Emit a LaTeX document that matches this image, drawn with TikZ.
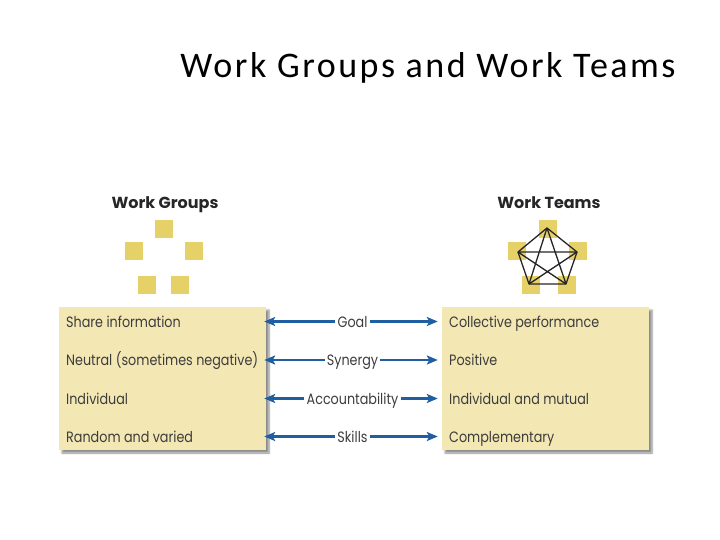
\documentclass[tikz,border=0pt]{standalone}
\usepackage{fontspec}
\setmainfont{Carlito}
\newfontfamily\titlefont[LetterSpace=7]{Carlito}
\newfontfamily\geo{Poppins}
\newfontfamily\geon[FakeStretch=0.85]{Poppins}
\usetikzlibrary{arrows.meta,shadows.blur}
\definecolor{boxfill}{RGB}{243,231,180}
\definecolor{sqfill}{RGB}{230,208,104}
\definecolor{arrblue}{RGB}{31,94,160}
\definecolor{txtgray}{RGB}{60,60,60}
\tikzset{
  panel/.style={draw=none, fill=boxfill, minimum width=207pt, minimum height=143pt,
    blur shadow={shadow xshift=3pt, shadow yshift=-3pt, shadow blur steps=6, shadow opacity=45}},
  rowtxt/.style={anchor=base west, inner sep=0pt, text=txtgray, font=\geon\fontsize{15}{17}\selectfont},
  midtxt/.style={inner sep=2pt, text height=11pt, text depth=0pt, text=txtgray, font=\geon\fontsize{15}{17}\selectfont},
  hdr/.style={anchor=base, inner sep=0pt, text=black!85, font=\geo\bfseries\fontsize{16}{18}\selectfont},
  sq/.style={draw=none, fill=sqfill, minimum size=18.5pt, inner sep=0pt},
  dbl/.style={draw=arrblue, line width=2.2pt, -{Stealth[length=11pt,width=9pt,inset=2.5pt]}},
  pent/.style={draw=black!85, line width=1.3pt}
}
\begin{document}
\begin{tikzpicture}[x=1pt,y=-1pt]
\useasboundingbox (0,0) rectangle (720,540);
% title
\node[anchor=base, inner sep=0pt, font=\titlefont\fontsize{36}{42}\selectfont] (title) at (428,78) {Work Groups and Work Teams};
% headers
\node[hdr] (hg) at (165,208) {Work Groups};
\node[hdr] (ht) at (549,208) {Work Teams};
% work group squares
\node[sq] (g1) at (164,229) {};
\node[sq] (g2) at (134,251) {};
\node[sq] (g3) at (194,251) {};
\node[sq] (g4) at (147,285) {};
\node[sq] (g5) at (180,285) {};
% work team squares
\node[sq] (t1) at (548,229) {};
\node[sq] (t2) at (517,251) {};
\node[sq] (t3) at (578,251) {};
\node[sq] (t4) at (531,285) {};
\node[sq] (t5) at (567,285) {};
% pentagon with all diagonals
\coordinate (p1) at (547,228);
\coordinate (p2) at (518,252);
\coordinate (p3) at (577,252);
\coordinate (p4) at (529,284);
\coordinate (p5) at (566,284);
\draw[pent, line join=round] (p1) -- (p3) -- (p5) -- (p4) -- (p2) -- cycle;
\draw[pent] (p1) -- (p4) (p1) -- (p5) (p2) -- (p3) (p2) -- (p5) (p3) -- (p4);
% boxes
\node[panel] (lbox) at (162.5,378.5) {};
\node[panel] (rbox) at (545.5,378.5) {};
% left texts
\node[rowtxt] (l1) at (66,327) {Share information};
\node[rowtxt] (l2) at (66,365.5) {Neutral (sometimes negative)};
\node[rowtxt] (l3) at (66,404) {Individual};
\node[rowtxt] (l4) at (66,442) {Random and varied};
% right texts
\node[rowtxt] (r1) at (449,327) {Collective performance};
\node[rowtxt] (r2) at (449,365.5) {Positive};
\node[rowtxt] (r3) at (449,404) {Individual and mutual};
\node[rowtxt] (r4) at (449,442) {Complementary};
% middle labels
\node[midtxt] (m1) at (352.5,321.5) {Goal};
\node[midtxt] (m2) at (352.5,360) {Synergy};
\node[midtxt] (m3) at (352.5,398.5) {Accountability};
\node[midtxt] (m4) at (352.5,436.5) {Skills};
\foreach \m in {m1,m2,m3,m4}{
  \draw[dbl, shorten >=-2pt] (\m.west) -- (\m.west -| lbox.east);
  \draw[dbl, shorten >=4pt] (\m.east) -- (\m.east -| rbox.west);
}
\end{tikzpicture}
\end{document}
